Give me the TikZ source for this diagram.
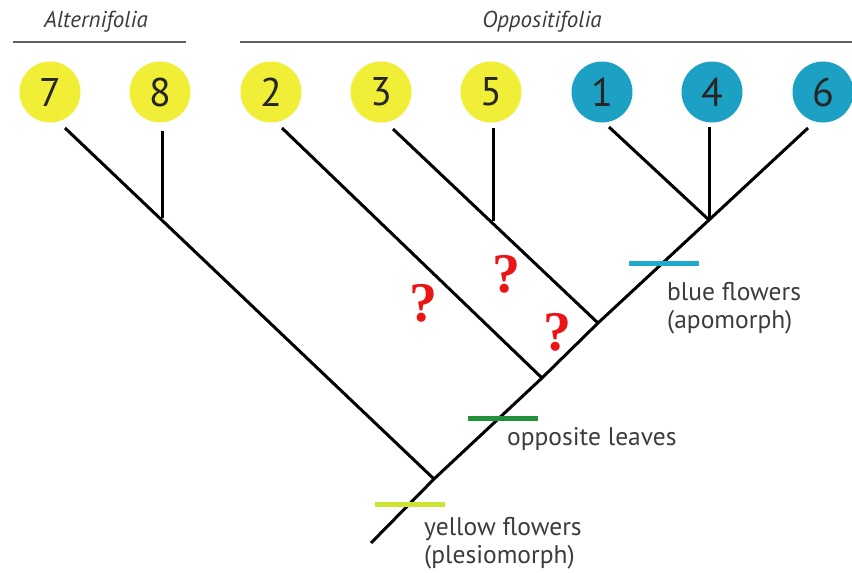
\documentclass[tikz,border=0pt]{standalone}
\usepackage{fontspec}
\setmainfont{PT Sans}
\newfontfamily\qmfont{Liberation Serif}
\usetikzlibrary{shapes.geometric}
\definecolor{cYfill}{RGB}{240,238,55}
\definecolor{cBfill}{RGB}{28,160,196}
\definecolor{cTxt}{RGB}{60,60,60}
\definecolor{cYbar}{RGB}{205,228,50}
\definecolor{cGbar}{RGB}{35,145,60}
\definecolor{cBbar}{RGB}{30,170,205}
\definecolor{cQred}{RGB}{235,20,20}
\begin{document}
\begin{tikzpicture}[x=1pt,y=-1pt,
  leaf/.style={circle,minimum size=61pt,inner sep=0pt,
    font=\fontsize{40}{40}\selectfont,text=black!85},
  yleaf/.style={leaf,fill=cYfill},
  bleaf/.style={leaf,fill=cBfill},
  branch/.style={line width=3pt,black},
  clade/.style={font=\fontsize{23}{23}\selectfont\itshape,text=cTxt,anchor=base},
  sep/.style={line width=2.2pt,black!62},
  charbar/.style={line width=5pt},
  lab/.style={font=\fontsize{25.5}{25.5}\selectfont,text=cTxt,anchor=base west,inner sep=0pt},
  qm/.style={font=\fontsize{56}{56}\selectfont\bfseries\qmfont,text=cQred}]
\useasboundingbox (0,0) rectangle (852,573);
% clade labels
\node[clade] (alt) at (96,27) {Alternifolia};
\node[clade] (opp) at (542,27) {Oppositifolia};
\coordinate (a1) at (13,42); \coordinate (a2) at (186,42);
\coordinate (o1) at (240,42); \coordinate (o2) at (852,42);
\draw[sep] (a1) -- (a2);
\draw[sep] (o1) -- (o2);
% leaves
\node[yleaf] (n7) at (50,92) {7};
\node[yleaf] (n8) at (160,92) {8};
\node[yleaf] (n2) at (271,92) {2};
\node[yleaf] (n3) at (381,92) {3};
\node[yleaf] (n5) at (491,92) {5};
\node[bleaf] (n1) at (602,92) {1};
\node[bleaf] (n4) at (712,92) {4};
\node[bleaf] (n6) at (823,92) {6};
% branch tips
\coordinate (t7) at (65,128);
\coordinate (t8) at (162,131);
\coordinate (t2) at (282,128);
\coordinate (t3) at (393,129);
\coordinate (t5) at (493,128);
\coordinate (t1) at (609,127);
\coordinate (t4) at (709,127);
\coordinate (t6) at (808,128);
% junctions
\coordinate (root) at (371,543);
\coordinate (j78) at (434,479);
\coordinate (j8) at (162,218);
\coordinate (j2) at (542,378);
\coordinate (j35) at (598,323);
\coordinate (j5) at (493,221);
\coordinate (j146) at (709,220);
% tree
\draw[branch] (root) -- (j78) -- (j2) -- (j35) -- (j146) -- (t6);
\draw[branch] (j78) -- (t7);
\draw[branch] (j8) -- (t8);
\draw[branch] (j2) -- (t2);
\draw[branch] (j35) -- (t3);
\draw[branch] (j5) -- (t5);
\draw[branch] (j146) -- (t1);
\draw[branch] (j146) -- (t4);
% character bars
\coordinate (yb1) at (375,504); \coordinate (yb2) at (445,504);
\coordinate (gb1) at (468,418); \coordinate (gb2) at (538,418);
\coordinate (bb1) at (629,263); \coordinate (bb2) at (699,263);
\draw[charbar,draw=cYbar] (yb1) -- (yb2);
\draw[charbar,draw=cGbar] (gb1) -- (gb2);
\draw[charbar,draw=cBbar] (bb1) -- (bb2);
% labels
\node[lab] (ly1) at (424,535) {yellow flowers};
\node[lab] (ly2) at (424,563) {(plesiomorph)};
\node[lab] (lo) at (507,445) {opposite leaves};
\node[lab] (lb1) at (667,300) {blue flowers};
\node[lab] (lb2) at (667,328) {(apomorph)};
% question marks
\node[qm] (q1) at (423,303) {?};
\node[qm] (q2) at (506,274) {?};
\node[qm] (q3) at (557,332) {?};
\end{tikzpicture}
\end{document}
